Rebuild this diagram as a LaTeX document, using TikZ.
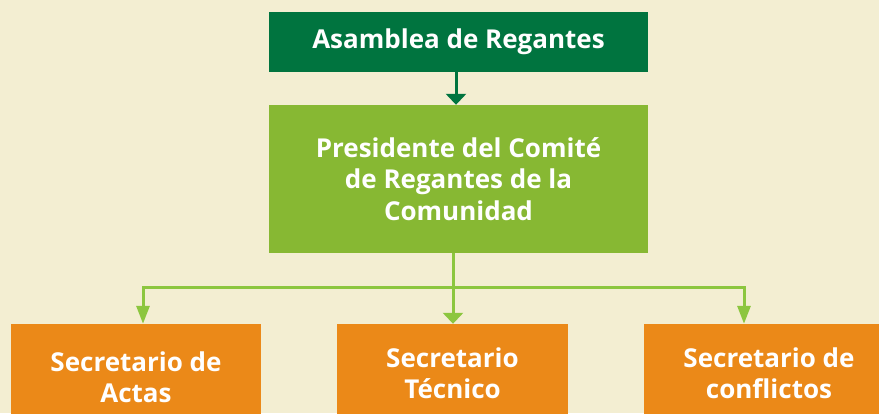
\documentclass[tikz,border=0pt]{standalone}
\usepackage{fontspec}
\setmainfont{Open Sans}
\usetikzlibrary{arrows.meta, positioning}
\definecolor{bgBeige}{HTML}{F3EED2}
\definecolor{darkGreen}{HTML}{00743F}
\definecolor{mainGreen}{HTML}{87B833}
\definecolor{linkGreen}{HTML}{8CC63F}
\definecolor{mainOrange}{HTML}{EB8918}

\begin{document}
\begin{tikzpicture}[x=1pt, y=-1pt,
    box/.style={rectangle, inner sep=0pt, text=white, align=center,
      font=\fontsize{26}{31.5}\selectfont\bfseries},
    link/.style={line width=3pt, draw=linkGreen}]
    \fill[bgBeige] (0,0) rectangle (879,413);
    \useasboundingbox (0,0) rectangle (879,413);
    \clip (0,0) rectangle (879,413);

    \node[box, fill=darkGreen, minimum width=379pt, minimum height=60pt] (asamblea) at (458.5,42) {Asamblea de Regantes};
    \node[box, fill=mainGreen, minimum width=379pt, minimum height=148pt] (presidente) at (458.5,179) {Presidente del Comité\\de Regantes de la\\Comunidad};

    \node[box, fill=mainOrange, minimum width=250pt, minimum height=106pt] (actas) at (136,377) {Secretario de\\Actas};
    \node[box, fill=mainOrange, minimum width=231pt, minimum height=98pt] (tecnico) at (452.5,373) {Secretario\\Técnico};
    \node[box, fill=mainOrange, minimum width=250pt, minimum height=98pt] (conflictos) at (769,373) {Secretario de\\conflictos};

    % arrows
    \coordinate (top) at (456,0);
    \draw[line width=3pt, darkGreen, -{Triangle[width=20pt,length=11pt]}] (asamblea.south -| top) -- (presidente.north -| top);

    \coordinate (split) at (453,287);
    \coordinate (bl) at (143,287);
    \coordinate (br) at (744,287);
    \draw[link, -{Triangle[width=20pt,length=11pt]}] (presidente.south -| split) -- (tecnico.north -| split);
    \draw[link, {Triangle[width=13pt,length=18pt]}-{Triangle[width=13pt,length=18pt]}] (bl |- actas.north) -- (bl) -- (br) -- (br |- conflictos.north);
\end{tikzpicture}
\end{document}
